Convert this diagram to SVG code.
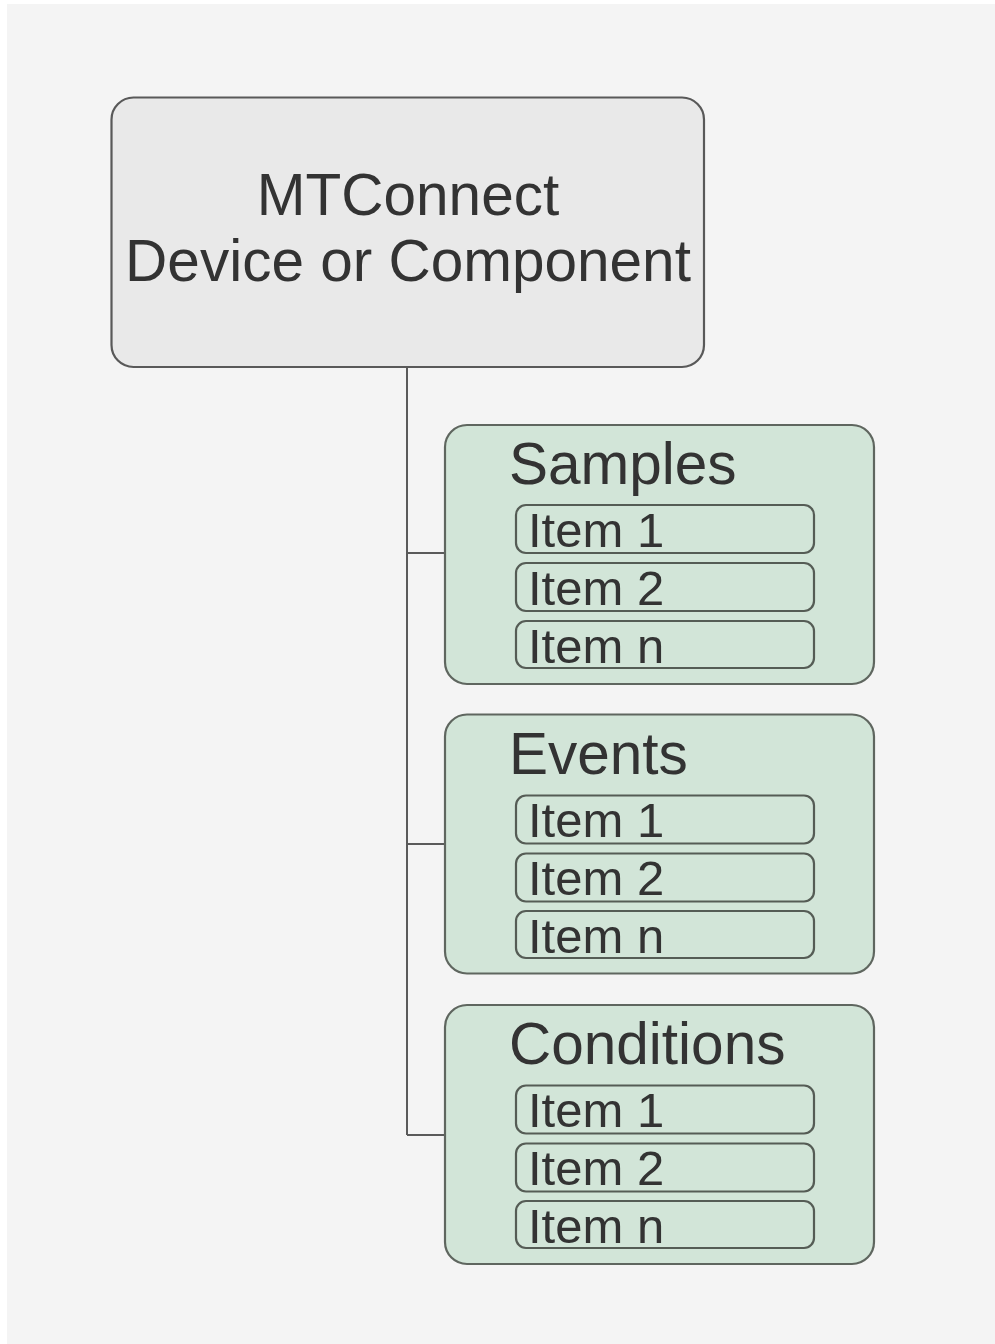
<svg xmlns="http://www.w3.org/2000/svg" width="995" height="1344" viewBox="0 0 995 1344">
  <style>
    .bg { fill: #f4f4f4; }
    .root { fill: #e9e9e9; stroke: #595959; stroke-width: 2.2; }
    .group { fill: #d2e5d8; stroke: #5f665f; stroke-width: 2.2; }
    .item { fill: #d2e5d8; stroke: #555c55; stroke-width: 2.2; }
    .wire { fill: none; stroke: #5a5a5a; stroke-width: 2; }
    text { font-family: "Liberation Sans", Arial, sans-serif; fill: #333333; }
    .title { font-size: 58.5px; text-anchor: middle; }
    .head { font-size: 58.5px; }
    .label { font-size: 49px; }
  </style>

  <rect width="995" height="1344" fill="#ffffff"/>
  <rect class="bg" x="7" y="4" width="988" height="1340"/>

  <!-- connectors: trunk from the root box with one branch per group -->
  <g id="connectors">
    <path class="wire" d="M407 367 V1135"/>
    <path class="wire" d="M407 553 H445"/>
    <path class="wire" d="M407 844 H445"/>
    <path class="wire" d="M407 1135 H445"/>
  </g>

  <g id="device">
    <rect class="root" x="111.5" y="97.5" width="592.5" height="269.5" rx="22"/>
    <text class="title" x="408" y="215">MTConnect</text>
    <text class="title" x="408" y="281">Device or Component</text>
  </g>

  <g id="samples">
    <rect class="group" x="445" y="425" width="429" height="259" rx="22"/>
    <text class="head" x="509" y="484">Samples</text>
    <rect class="item" x="516" y="505" width="298" height="48" rx="10"/>
    <text class="label" x="528" y="547">Item 1</text>
    <rect class="item" x="516" y="563" width="298" height="48" rx="10"/>
    <text class="label" x="528" y="605">Item 2</text>
    <rect class="item" x="516" y="621" width="298" height="47" rx="10"/>
    <text class="label" x="528" y="663">Item n</text>
  </g>

  <g id="events">
    <rect class="group" x="445" y="714.5" width="429" height="259" rx="22"/>
    <text class="head" x="509" y="774">Events</text>
    <rect class="item" x="516" y="795.5" width="298" height="48" rx="10"/>
    <text class="label" x="528" y="837">Item 1</text>
    <rect class="item" x="516" y="853.5" width="298" height="48" rx="10"/>
    <text class="label" x="528" y="895">Item 2</text>
    <rect class="item" x="516" y="911" width="298" height="47" rx="10"/>
    <text class="label" x="528" y="953">Item n</text>
  </g>

  <g id="conditions">
    <rect class="group" x="445" y="1005" width="429" height="259" rx="22"/>
    <text class="head" x="509" y="1064">Conditions</text>
    <rect class="item" x="516" y="1085.5" width="298" height="48" rx="10"/>
    <text class="label" x="528" y="1127">Item 1</text>
    <rect class="item" x="516" y="1143.5" width="298" height="48" rx="10"/>
    <text class="label" x="528" y="1185">Item 2</text>
    <rect class="item" x="516" y="1201" width="298" height="47" rx="10"/>
    <text class="label" x="528" y="1243">Item n</text>
  </g>
</svg>
